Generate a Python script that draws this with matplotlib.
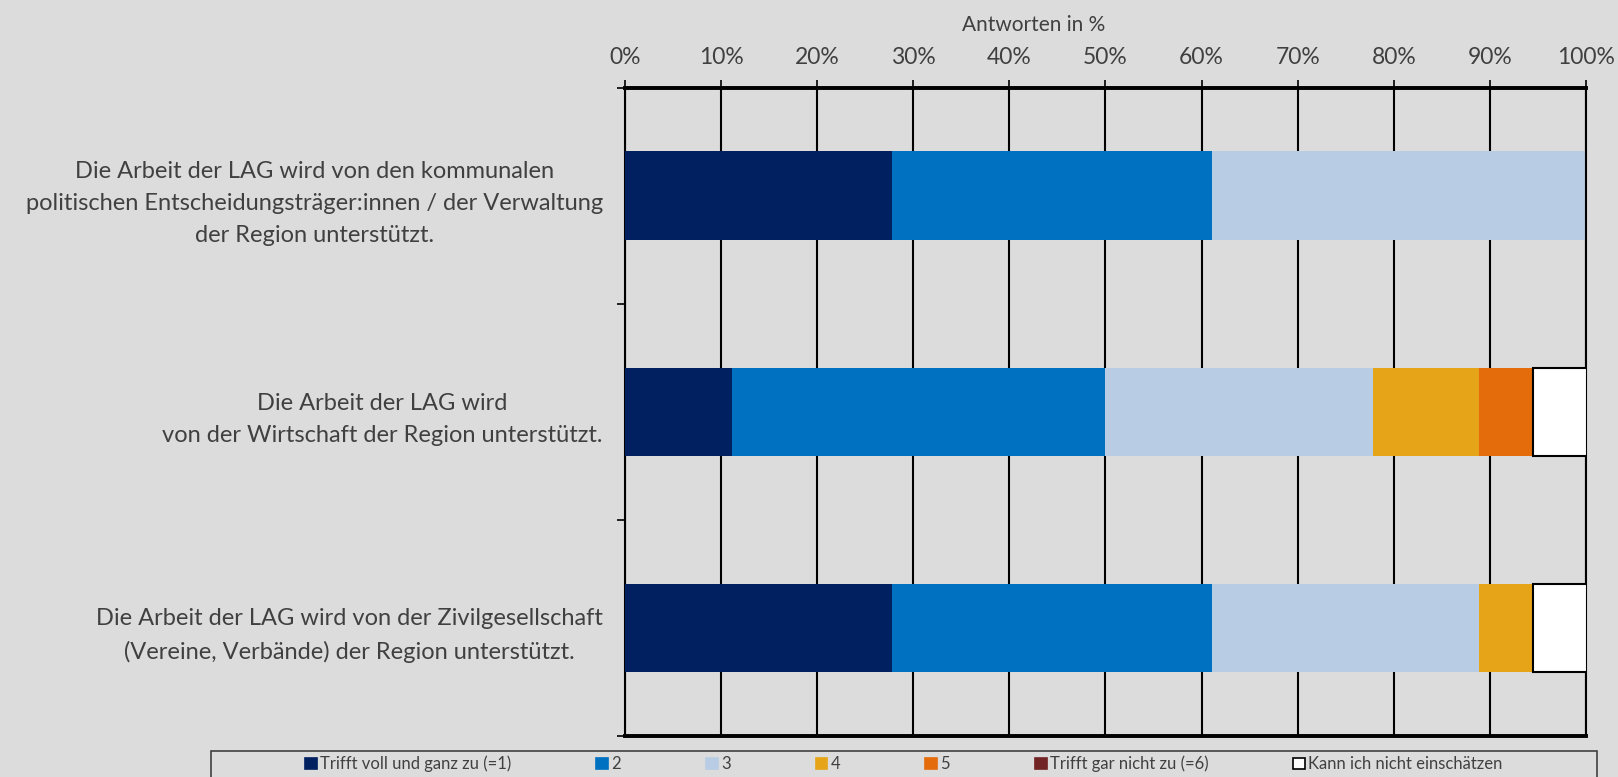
import matplotlib.pyplot as plt
import numpy as np
from matplotlib.patches import Patch, Rectangle

plt.rcParams['font.family'] = ['Lato', 'DejaVu Sans']

# Statements (top to bottom) and answer shares in percent
statements = [
    "Die Arbeit der LAG wird von den kommunalen\npolitischen Entscheidungsträger:innen / der Verwaltung\nder Region unterstützt.",
    "Die Arbeit der LAG wird\nvon der Wirtschaft der Region unterstützt.",
    "Die Arbeit der LAG wird von der Zivilgesellschaft\n(Vereine, Verbände) der Region unterstützt.",
]
answers = ["Trifft voll und ganz zu (=1)", "2", "3", "4", "5",
           "Trifft gar nicht zu (=6)", "Kann ich nicht einschätzen"]
shares = np.array([
    [27.8, 33.3, 38.9, 0.0, 0.0, 0.0, 0.0],
    [11.1, 38.9, 27.8, 11.1, 5.6, 0.0, 5.6],
    [27.8, 33.3, 27.8, 5.6, 0.0, 0.0, 5.6],
])
colors = ['#002060', '#0070C0', '#B8CCE4', '#E6A418', '#E46C0A', '#722323', '#FFFFFF']
ticks = np.arange(0, 101, 10)
tick_labels = [f"{t}%" for t in ticks]

bg = '#DCDCDC'
txt = '#404040'

fig = plt.figure(figsize=(16.18, 7.77), dpi=100, facecolor=bg)
ax = fig.add_axes([0.3863, 0.0527, 0.9802 - 0.3863, 0.8871 - 0.0527])
ax.set_facecolor(bg)

y = np.arange(len(statements))
left = np.zeros(len(statements))
for i, (name, c) in enumerate(zip(answers, colors)):
    ec = 'black' if c == '#FFFFFF' else c
    lw = 1.5 if c == '#FFFFFF' else 0
    ax.barh(y, shares[:, i], left=left, height=0.41, color=c,
            edgecolor=ec, linewidth=lw, zorder=3)
    left += shares[:, i]

ax.set_xlim(0, 100)
ax.set_ylim(2.5, -0.5)

# value axis on top, black grid every 10 %
ax.xaxis.tick_top()
ax.set_xticks(ticks)
ax.set_xticklabels(tick_labels)
ax.tick_params(axis='x', which='major', direction='out', length=6, width=1.2,
               color='black', pad=8.5, labelsize=16.5, labelcolor=txt)
ax.grid(axis='x', color='black', linewidth=1.5, zorder=1)
fig.text(1034 / 1618, 1 - 25 / 777, "Antworten in %", fontsize=15, color=txt,
         ha='center', va='center')

# category axis: ticks between groups, labels centred on bars
ax.set_yticks([-0.5, 0.5, 1.5, 2.5])
ax.set_yticklabels([])
ax.set_yticks(y, minor=True)
ax.set_yticklabels(statements, minor=True, multialignment='center', linespacing=1.65)
ax.tick_params(axis='y', which='major', direction='out', length=6, width=1.2, color='black')
ax.tick_params(axis='y', which='minor', length=0, pad=16, labelsize=17, labelcolor=txt)

for side in ['top', 'bottom']:
    ax.spines[side].set_linewidth(2.8)
    ax.spines[side].set_color('black')
ax.spines['left'].set_linewidth(1.5)
ax.spines['right'].set_linewidth(1.5)

# legend in a framed strip along the bottom edge
fig.patches.append(Rectangle((211 / 1618, -0.05), (1597 - 211) / 1618, 0.05 + 26 / 777,
                             transform=fig.transFigure, facecolor='none',
                             edgecolor='#404040', linewidth=1.2))
handles = [Patch(facecolor=c, edgecolor='black' if c == '#FFFFFF' else c, linewidth=1.2)
           for c in colors]
fig.legend(handles, answers, loc='center', bbox_to_anchor=(904 / 1618, 1 - 764 / 777),
           ncol=7, frameon=False, fontsize=12, labelcolor=txt,
           handlelength=0.7, handleheight=0.7, handletextpad=0.2, columnspacing=5.1)

fig.savefig('out.png', dpi=100, facecolor=bg)
